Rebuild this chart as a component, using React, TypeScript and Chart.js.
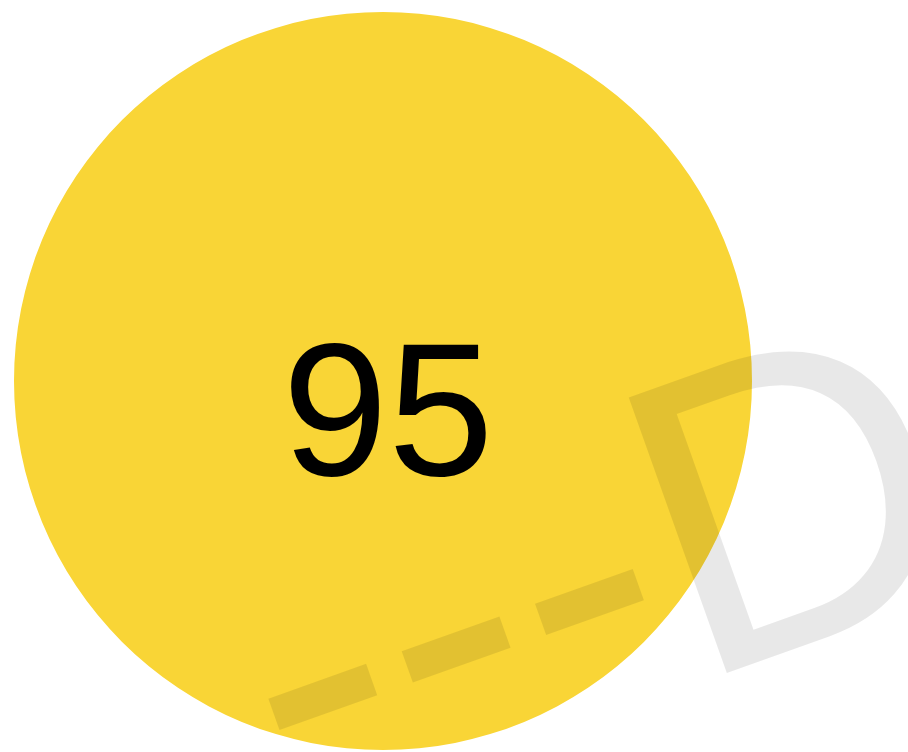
import React, { useEffect, useRef } from "react";
import { Chart, registerables } from "chart.js";

Chart.register(...registerables);

const labels: string[] = ["Score"];
const values: number[] = [95];
const sliceColors: string[] = ["#F9D536"];
const watermarkText = "---DEMO";

const centerTextPlugin = {
  id: "centerText",
  afterDatasetsDraw(chart: any) {
    const meta = chart.getDatasetMeta(0);
    const arc = meta.data[0];
    if (!arc) return;
    const ctx = chart.ctx;
    ctx.save();
    ctx.fillStyle = "#000000";
    ctx.font = '190px "Liberation Sans", Arial, sans-serif';
    ctx.textAlign = "center";
    ctx.textBaseline = "alphabetic";
    ctx.fillText(String(values[0]), arc.x + 5, arc.y + 94);
    ctx.restore();
  },
};

const watermarkPlugin = {
  id: "watermark",
  afterDraw(chart: any) {
    const ctx = chart.ctx;
    ctx.save();
    ctx.fillStyle = "rgba(0,0,0,0.09)";
    ctx.font = '425px "Liberation Sans", Arial, sans-serif';
    ctx.textAlign = "left";
    ctx.textBaseline = "alphabetic";
    ctx.translate(294, 827);
    ctx.rotate((-19.6 * Math.PI) / 180);
    ctx.fillText(watermarkText, 0, 0);
    ctx.restore();
  },
};

export default function App() {
  const ref = useRef<HTMLCanvasElement | null>(null);
  useEffect(() => {
    if (!ref.current) return;
    const chart = new Chart(ref.current, {
      type: "pie",
      data: {
        labels,
        datasets: [
          {
            data: values,
            backgroundColor: sliceColors,
            borderWidth: 0,
          },
        ],
      },
      options: {
        animation: false,
        responsive: false,
        maintainAspectRatio: false,
        layout: { padding: { left: 14, right: 156, top: 12, bottom: 2 } },
        plugins: {
          legend: { display: false },
          tooltip: { enabled: false },
        },
      },
      plugins: [centerTextPlugin, watermarkPlugin],
    });
    return () => chart.destroy();
  }, []);
  return (
    <div style={{ position: "fixed", left: 0, top: 0, width: 908, height: 752, background: "#ffffff" }}>
      <canvas ref={ref} width={908} height={752} style={{ width: 908, height: 752, display: "block" }} />
    </div>
  );
}
